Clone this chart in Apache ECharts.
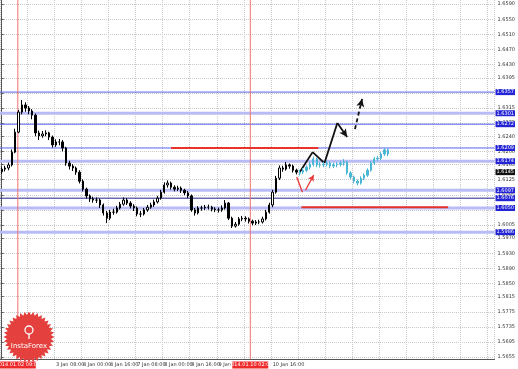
<!DOCTYPE html>
<html><head><meta charset="utf-8">
<script src="https://cdn.jsdelivr.net/npm/echarts@6/dist/echarts.min.js"></script>
<style>html,body{margin:0;padding:0;background:#fff}#c{width:518px;height:369px}</style>
</head><body><div id="c"></div>
<script>
// ---------- data ----------
const N_CATS = 146;               // 2-hour slots on the time axis
const TICK_STEP = 8;              // one time label every 8 slots
const xTickLabels = ['', '2 Jan 16:00', '3 Jan 08:00', '4 Jan 00:00', '4 Jan 16:00', '7 Jan 08:00',
  '8 Jan 00:00', '8 Jan 16:00', '9 Jan 08:00', '', '10 Jan 16:00'];
const yTickValues = [1.6590, 1.6550, 1.6510, 1.6470, 1.6430, 1.6395, 1.6355, 1.6315, 1.6275, 1.6240,
  1.6200, 1.6165, 1.6125, 1.6085, 1.6045, 1.6005, 1.5970, 1.5930, 1.5890, 1.5850, 1.5815, 1.5775,
  1.5735, 1.5695, 1.5655];

// history candles [open, close, low, high]
const history = [
 [1.6146,1.6153,1.6140,1.6158],[1.6153,1.6156,1.6147,1.6162],[1.6156,1.6164,1.6150,1.6170],[1.6164,1.6198,1.6160,1.6205],
 [1.6198,1.6251,1.6195,1.6260],[1.6251,1.6304,1.6248,1.6310],[1.6304,1.6323,1.6298,1.6336],[1.6323,1.6315,1.6305,1.6330],
 [1.6315,1.6307,1.6298,1.6320],[1.6307,1.6296,1.6285,1.6312],[1.6296,1.6249,1.6240,1.6300],[1.6249,1.6241,1.6230,1.6255],
 [1.6241,1.6246,1.6236,1.6254],[1.6246,1.6249,1.6240,1.6256],[1.6249,1.6238,1.6230,1.6252],[1.6238,1.6217,1.6210,1.6242],
 [1.6217,1.6225,1.6212,1.6232],[1.6225,1.6225,1.6216,1.6233],[1.6225,1.6209,1.6200,1.6230],[1.6209,1.6169,1.6162,1.6212],
 [1.6169,1.6161,1.6152,1.6175],[1.6161,1.6156,1.6148,1.6166],[1.6156,1.6145,1.6138,1.6160],[1.6145,1.6121,1.6115,1.6150],
 [1.6121,1.6100,1.6094,1.6126],[1.6100,1.6082,1.6075,1.6104],[1.6082,1.6074,1.6066,1.6086],[1.6074,1.6071,1.6064,1.6080],
 [1.6071,1.6071,1.6063,1.6078],[1.6071,1.6058,1.6050,1.6075],[1.6058,1.6037,1.6030,1.6062],[1.6037,1.6023,1.6010,1.6042],
 [1.6023,1.6039,1.6018,1.6045],[1.6039,1.6039,1.6032,1.6048],[1.6039,1.6050,1.6035,1.6056],[1.6050,1.6060,1.6046,1.6066],
 [1.6060,1.6071,1.6056,1.6078],[1.6071,1.6063,1.6058,1.6076],[1.6063,1.6055,1.6049,1.6068],[1.6055,1.6050,1.6042,1.6060],
 [1.6050,1.6034,1.6028,1.6054],[1.6034,1.6034,1.6026,1.6042],[1.6034,1.6045,1.6030,1.6050],[1.6045,1.6052,1.6040,1.6058],
 [1.6052,1.6058,1.6048,1.6064],[1.6058,1.6066,1.6053,1.6072],[1.6066,1.6076,1.6062,1.6082],[1.6076,1.6092,1.6072,1.6098],
 [1.6092,1.6111,1.6088,1.6118],[1.6111,1.6116,1.6104,1.6123],[1.6116,1.6105,1.6099,1.6120],[1.6105,1.6100,1.6094,1.6110],
 [1.6100,1.6103,1.6095,1.6109],[1.6103,1.6097,1.6090,1.6107],[1.6097,1.6090,1.6084,1.6101],[1.6090,1.6082,1.6076,1.6095],
 [1.6082,1.6045,1.6040,1.6086],[1.6045,1.6037,1.6030,1.6050],[1.6037,1.6050,1.6033,1.6055],[1.6050,1.6050,1.6043,1.6056],
 [1.6050,1.6052,1.6045,1.6058],[1.6052,1.6052,1.6046,1.6059],[1.6052,1.6047,1.6041,1.6056],[1.6047,1.6045,1.6039,1.6052],
 [1.6045,1.6045,1.6038,1.6051],[1.6045,1.6050,1.6040,1.6057],[1.6050,1.6063,1.6046,1.6071],[1.6063,1.6023,1.6018,1.6066],
 [1.6023,1.6002,1.5997,1.6027],[1.6002,1.6007,1.5998,1.6013],[1.6007,1.6021,1.6003,1.6026],[1.6021,1.6023,1.6015,1.6029],
 [1.6023,1.6021,1.6014,1.6028],[1.6021,1.6015,1.6009,1.6025],[1.6015,1.6010,1.6004,1.6019],[1.6010,1.6013,1.6005,1.6018],
 [1.6013,1.6013,1.6007,1.6019],[1.6013,1.6021,1.6009,1.6027],[1.6021,1.6039,1.6017,1.6045],[1.6039,1.6058,1.6035,1.6064],
 [1.6058,1.6092,1.6052,1.6098],[1.6092,1.6129,1.6088,1.6135],[1.6129,1.6156,1.6124,1.6163],[1.6156,1.6153,1.6146,1.6162],
 [1.6153,1.6164,1.6149,1.6172],[1.6164,1.6161,1.6154,1.6168],[1.6161,1.6150,1.6144,1.6165],[1.6150,1.6145,1.6139,1.6154]
];
// forecast candles [open, close, low, high]
const forecast = [
 [1.6142,1.6145,1.6136,1.6151],[1.6145,1.6150,1.6140,1.6156],[1.6150,1.6158,1.6145,1.6163],[1.6158,1.6166,1.6152,1.6172],
 [1.6166,1.6180,1.6160,1.6186],[1.6180,1.6164,1.6158,1.6183],[1.6164,1.6164,1.6157,1.6171],[1.6164,1.6166,1.6158,1.6172],
 [1.6166,1.6169,1.6160,1.6175],[1.6169,1.6161,1.6155,1.6173],[1.6161,1.6164,1.6156,1.6170],[1.6164,1.6166,1.6158,1.6172],
 [1.6166,1.6169,1.6160,1.6175],[1.6169,1.6172,1.6162,1.6180],[1.6172,1.6143,1.6138,1.6175],[1.6143,1.6132,1.6126,1.6147],
 [1.6132,1.6121,1.6115,1.6136],[1.6121,1.6116,1.6110,1.6125],[1.6116,1.6129,1.6112,1.6134],[1.6129,1.6137,1.6124,1.6142],
 [1.6137,1.6150,1.6132,1.6155],[1.6150,1.6169,1.6146,1.6174],[1.6169,1.6180,1.6164,1.6185],[1.6180,1.6182,1.6174,1.6188],
 [1.6182,1.6193,1.6177,1.6198],[1.6193,1.6204,1.6188,1.6209],[1.6204,1.6193,1.6187,1.6208]
];

const levelsLight = [1.6301, 1.6174, 1.6097, 1.6050, 1.5986];
const levelsBlue  = [1.6357, 1.6272, 1.6209];
const levelsNavy  = [1.6076];

// annotation paths: [slot index, price]
const blackPath  = [[87.97,1.6145],[91.8,1.6198],[95.3,1.6169],[99.1,1.6275],[102.0,1.6238]];
const dashedPath = [[104.3,1.6259],[106.4,1.6339]];
const redStroke1 = [[87.1,1.6132],[88.8,1.6092]];
const redStroke2 = [[89.7,1.6097],[92.1,1.6137]];
const redLineUpper = [[50.0,1.6209],[93.5,1.6209]];
const redLineLower = [[88.5,1.6052],[131.8,1.6052]];
const vLineSlots  = [4.76, 73.4];
const vLineLabels = ['2014.01.02 09:00', '2014.01.10 02:00'];

// ---------- build ----------
const Y_MIN = 1.5650, Y_MAX = 1.6601;
const cats = Array.from({length: N_CATS}, (_, i) => 'c' + i);
const labelOf = i => (i % TICK_STEP === 0 && xTickLabels[i / TICK_STEP]) ? xTickLabels[i / TICK_STEP] : '';
const histData = history.map((d, i) => [i, ...d]);
const fcData = forecast.map((d, i) => [history.length + i, ...d]);
const lastClose = history[history.length - 1][1];

const levelSeries = (vals, color, width) => vals.map(v => ({
  type: 'line', xAxisIndex: 1, silent: true, symbol: 'none', z: 2,
  data: [[-0.5, v], [N_CATS - 0.5, v]],
  lineStyle: {color, width},
  endLabel: {show: true, distance: 1, formatter: () => v.toFixed(4), color: '#fff',
    backgroundColor: '#2424d6', fontSize: 5, padding: [1, 1, 0, 1]}
}));
const vLineSeries = vLineSlots.map((s, k) => ({
  type: 'line', xAxisIndex: 1, silent: true, symbol: 'none', z: 3,
  data: [[s, Y_MIN], [s, Y_MAX]],
  lineStyle: {color: '#f07070', width: 1},
  markPoint: {silent: true, symbol: 'rect', symbolSize: [36, 7], symbolOffset: [0, 6],
    itemStyle: {color: '#ee2a2a'},
    label: {show: true, formatter: () => vLineLabels[k], color: '#fff', fontSize: 5, offset: [0, 0]},
    data: [{coord: [s, Y_MIN]}]}
}));
const pathSeries = (pts, color, width, type, arrow, size) => ({
  type: 'line', xAxisIndex: 1, silent: true, data: [], z: 8,
  markLine: {silent: true, symbol: ['none', 'none'], label: {show: false},
    data: pts.slice(0, -1).map((p, k) => {
      const last = k === pts.length - 2;
      return [{coord: p, symbol: 'none', lineStyle: {color, width, type}},
              {coord: pts[k + 1], symbol: (last && arrow) ? 'arrow' : 'none', symbolSize: size}];
    })}
});

const chart = echarts.init(document.getElementById('c'), null, {renderer: 'canvas'});

// starburst logo (decoration)
const star = [];
const cx = 29, cy = 337;
for (let k = 0; k < 72; k++) {
  const r = k % 2 ? 22 : 25.5;
  const a = k / 72 * Math.PI * 2;
  star.push([cx + r * Math.cos(a), cy + r * Math.sin(a)]);
}

chart.setOption({
  animation: false,
  backgroundColor: '#ffffff',
  textStyle: {fontFamily: 'DejaVu Sans'},
  grid: {left: 0, right: 18, top: 0, bottom: 10},
  xAxis: [{
    type: 'category', data: cats, boundaryGap: true,
    axisLine: {lineStyle: {color: '#555', width: 1}},
    axisTick: {alignWithLabel: true, length: 3, interval: i => i % TICK_STEP === 0 && labelOf(i) !== '', lineStyle: {color: '#555'}},
    axisLabel: {interval: i => i % TICK_STEP === 0 && labelOf(i) !== '', formatter: (v, i) => labelOf(i),
      fontSize: 5, color: '#333', align: 'left', margin: 3},
    splitLine: {show: true, interval: i => i % TICK_STEP === 0, lineStyle: {type: 'dotted', color: '#c8c8c8'}}
  }, {
    type: 'value', min: -0.5, max: N_CATS - 0.5, show: false
  }],
  yAxis: {
    type: 'value', position: 'right', min: Y_MIN, max: Y_MAX, scale: true,
    axisLine: {show: true, lineStyle: {color: '#555', width: 1}},
    axisTick: {show: true, customValues: yTickValues, length: 2, lineStyle: {color: '#555'}},
    axisLabel: {customValues: yTickValues, fontSize: 5, color: '#333', margin: 3, formatter: v => v.toFixed(4)},
    splitLine: {show: true, lineStyle: {type: 'dotted', color: '#c8c8c8'}}
  },
  series: [
    ...levelSeries(levelsLight, '#b8bcf6', 3),
    ...levelSeries(levelsBlue, '#5862ee', 1),
    ...levelSeries(levelsNavy, '#23238f', 1),
    ...vLineSeries,
    {
      type: 'candlestick', data: histData, encode: {x: 0, y: [1, 2, 3, 4]}, barWidth: '55%', z: 5,
      itemStyle: {color: '#ffffff', color0: '#000000', borderColor: '#000000', borderColor0: '#000000', borderWidth: 1}
    },
    {
      type: 'candlestick', data: fcData, encode: {x: 0, y: [1, 2, 3, 4]}, barWidth: '55%', z: 5,
      itemStyle: {color: '#4ab6d6', color0: '#4ab6d6', borderColor: '#4ab6d6', borderColor0: '#4ab6d6', borderWidth: 1}
    },
    { // current price marker
      type: 'line', xAxisIndex: 1, silent: true, symbol: 'none', z: 9,
      data: [[history.length - 1, lastClose], [N_CATS - 0.5, lastClose]],
      lineStyle: {opacity: 0},
      endLabel: {show: true, distance: 1, formatter: () => lastClose.toFixed(4), color: '#fff',
        backgroundColor: '#111', fontSize: 5, padding: [1, 1, 0, 1]}
    },
    {type: 'line', xAxisIndex: 1, data: redLineUpper, symbol: 'none', silent: true, z: 6, lineStyle: {color: '#e8332b', width: 2}},
    {type: 'line', xAxisIndex: 1, data: redLineLower, symbol: 'none', silent: true, z: 6, lineStyle: {color: '#e8332b', width: 2}},
    pathSeries(blackPath, '#111', 1.8, 'solid', true, [6, 8]),
    pathSeries(dashedPath, '#111', 1.8, [4, 3], true, [6, 8]),
    pathSeries(redStroke1, '#e83a3a', 1.3, 'solid', false, 0),
    pathSeries(redStroke2, '#e83a3a', 1.3, 'solid', true, [5, 6])
  ],
  graphic: [
    {type: 'polygon', shape: {points: star}, style: {fill: '#e4403d'}, z: 100},
    {type: 'circle', shape: {cx: cx, cy: cy - 7, r: 4}, style: {fill: 'none', stroke: '#fff', lineWidth: 1.3}, z: 101},
    {type: 'line', shape: {x1: cx, y1: cy - 3, x2: cx, y2: cy + 2}, style: {stroke: '#fff', lineWidth: 1.3}, z: 101},
    {type: 'text', x: cx, y: cy + 9, style: {text: 'InstaForex', fill: '#fff', fontSize: 7, align: 'center', verticalAlign: 'middle', fontFamily: 'DejaVu Sans'}, z: 101}
  ]
});
</script></body></html>
